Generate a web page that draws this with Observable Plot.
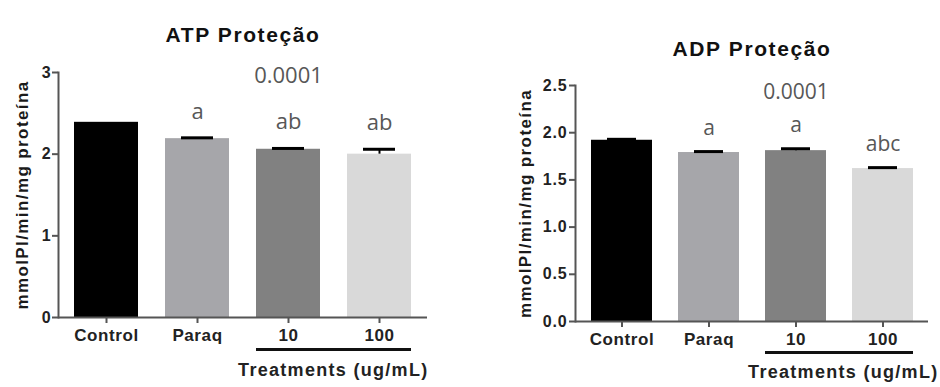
<!DOCTYPE html>
<html>
<head>
<meta charset="utf-8">
<script src="https://cdn.jsdelivr.net/npm/d3@7"></script>
<script src="https://cdn.jsdelivr.net/npm/@observablehq/plot@0.6"></script>
<style>
  html, body { margin: 0; padding: 0; background: #fff; }
  #wrap { position: relative; width: 940px; height: 387px; overflow: hidden; }
  #wrap > svg { position: absolute; top: 0; }
  svg { font-family: "Liberation Sans", Arial, sans-serif; }
  svg g[aria-label="x-axis tick label"] text { font-weight: bold; fill: #222; letter-spacing: 0.6px; }
  svg g[aria-label="y-axis tick label"] text { font-weight: bold; fill: #222; letter-spacing: 0.8px; }
</style>
</head>
<body>
<div id="wrap"></div>
<script>
// ---- data ----
const categories = ["Control", "Paraq", "10", "100"];
const barColors = ["#000000", "#a6a6aa", "#818181", "#d9d9d9"];

const atpMean = [2.39, 2.19, 2.06, 2.00];
const atpSem = [0.00, 0.01, 0.01, 0.06];
const atpLetters = ["", "a", "ab", "ab"];
const atpTicks = [0, 1, 2, 3];

const adpMean = [1.92, 1.79, 1.81, 1.62];
const adpSem = [0.01, 0.01, 0.02, 0.01];
const adpLetters = ["", "a", "a", "abc"];
const adpTicks = [0, 0.5, 1.0, 1.5, 2.0, 2.5];

const pValue = "0.0001";
const yTitle = "mmolPI/min/mg proteína";
const groupLabel = "Treatments (ug/mL)";
const atpTitle = "ATP Proteção";
const adpTitle = "ADP Proteção";

const spacing = new Map([[yTitle, "1.4px"], [groupLabel, "1.3px"], [atpTitle, "1.6px"], [adpTitle, "1.6px"]]);

function panel(o) {
  const data = categories.map((c, i) => ({cat: c, mean: o.mean[i], sem: o.sem[i], letter: o.letters[i]}));
  const svg = Plot.plot({
    width: 470,
    height: 387,
    marginLeft: o.ml, marginRight: o.mr, marginTop: o.mt, marginBottom: o.mb,
    style: {background: "transparent", overflow: "visible", fontSize: "16px"},
    x: {domain: categories, paddingInner: 0.3, paddingOuter: 0.175, label: null},
    y: {domain: [o.ticks[0], o.ticks[o.ticks.length - 1]], label: null},
    color: {domain: categories, range: barColors},
    marks: [
      Plot.barY(data, {x: "cat", y: "mean", fill: "cat"}),
      Plot.ruleX(data.filter(d => d.sem > 0), {x: "cat", y1: "mean", y2: d => d.mean + d.sem, stroke: "#000", strokeWidth: 2}),
      Plot.tickY(data.filter(d => d.sem > 0), {x: "cat", y: d => d.mean + d.sem, stroke: "#000", strokeWidth: 3, inset: 16}),
      Plot.text(data, {x: "cat", y: d => d.mean + d.sem, text: "letter", dy: o.letterDy, lineAnchor: "middle",
        fontFamily: "Open Sans, sans-serif", fontSize: o.annSize, fill: "#575757"}),
      Plot.text([pValue], {x: () => "10", frameAnchor: "top", dy: o.pDy, lineAnchor: "middle", text: d => d,
        fontFamily: "Open Sans, sans-serif", fontSize: o.annSize, fill: "#575757"}),
      Plot.frame({anchor: "left", stroke: "#555", strokeWidth: 2}),
      Plot.ruleY([o.ticks[0]], {stroke: "#555", strokeWidth: 2}),
      Plot.axisY({ticks: o.ticks, tickFormat: o.fmt, tickSize: 6, tickPadding: o.tp, stroke: "#555", strokeWidth: 2, fontSize: 16, label: null}),
      Plot.axisX({tickSize: 6, tickPadding: 5, stroke: "#555", strokeWidth: 2, fontSize: 17, label: null}),
      Plot.ruleY([0], {x1: () => "10", x2: () => "100", dy: o.ulDy, stroke: "#111", strokeWidth: 3}),
      Plot.text([groupLabel], {frameAnchor: "bottom-right", textAnchor: "end", dx: o.glDx, dy: o.glDy, lineAnchor: "middle",
        text: d => d, fontSize: 18, fontWeight: "bold", fill: "#222"}),
      Plot.text([o.title], {frameAnchor: "top", dy: o.titleDy, lineAnchor: "middle", text: d => d,
        fontSize: 21, fontWeight: "bold", fill: "#111"}),
      Plot.text([yTitle], {frameAnchor: "left", textAnchor: "middle", rotate: -90, dx: o.yDx, text: d => d,
        fontSize: 17, fontWeight: "bold", fill: "#1a1a1a"})
    ]
  });
  svg.querySelectorAll("text").forEach(t => {
    const s = spacing.get(t.textContent);
    if (s) t.style.letterSpacing = s;
  });
  return svg;
}

const left = panel({
  mean: atpMean, sem: atpSem, letters: atpLetters, ticks: atpTicks, fmt: d3.format("d"),
  ml: 58, mr: 43, mt: 72, mb: 70, tp: 1,
  letterDy: -26, pDy: 3, annSize: 22, ulDy: 32, glDx: 1, glDy: 53,
  title: atpTitle, titleDy: -37, yDx: -36
});
const right = panel({
  mean: adpMean, sem: adpSem, letters: adpLetters, ticks: adpTicks, fmt: d3.format(".1f"),
  ml: 105, mr: 12, mt: 85, mb: 66, tp: 2,
  letterDy: -23, pDy: 7, annSize: 21, ulDy: 31, glDx: 10, glDy: 51,
  title: adpTitle, titleDy: -36, yDx: -50
});
left.style.left = "0px";
right.style.left = "470px";
document.getElementById("wrap").append(left, right);
</script>
</body>
</html>
